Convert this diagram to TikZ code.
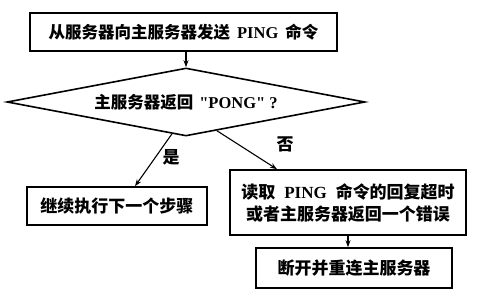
\documentclass[tikz,border=0pt]{standalone}
\usepackage{fontspec}
\setmainfont{Liberation Serif}
\newfontfamily\cjk{Noto Sans CJK SC}
\usepackage{tikz}
\usetikzlibrary{arrows.meta,positioning,shapes.geometric}
\newcommand\en[1]{{\rmfamily #1}}

\begin{document}
\begin{tikzpicture}[x=1pt,y=-1pt,font=\cjk\bfseries\fontsize{17}{22}\selectfont,
 small/.style={font=\cjk\bfseries\fontsize{16.5}{20}\selectfont},
 box/.style={draw,line width=1.6pt,align=center,inner sep=0pt},
 decision/.style={draw,diamond,line width=1.6pt,inner sep=0pt,aspect=5.26},
 arrow/.style={-{Stealth[length=7pt,width=5pt]},line width=1.1pt},
 lbl/.style={inner sep=0pt}]
\useasboundingbox (0,0) rectangle (483,299);
\node[box,small,minimum width=307pt,minimum height=38pt] (send) at (183.5,32) {从服务器向主服务器发送\hspace{7pt}\en{PING}\hspace{7pt}命令};
\node[decision,small,minimum width=358pt,minimum height=68pt] (pong) at (186,102) {主服务器返回\hspace{6pt}\en{\textquotedbl PONG\textquotedbl\ ?}};
\node[box,minimum width=180pt,minimum height=38pt] (next) at (117,206) {继续执行下一个步骤};
\node[box,minimum width=236pt,minimum height=65pt] (fail) at (348,202.5) {读取\hspace{9pt}\en{PING}\hspace{9pt}命令的回复超时\\或者主服务器返回一个错误};
\node[box,minimum width=196pt,minimum height=40pt] (reconnect) at (354,268) {断开并重连主服务器};
\node[lbl] (yes) at (171,157) {是};
\node[lbl] (no) at (285,144) {否};
\draw[arrow] (send.south -| pong.north)--(pong.north);
\draw[arrow] ([xshift=-14pt,yshift=3pt]pong.south)--([xshift=18pt]next.north);
\draw[arrow] ([xshift=31pt,yshift=6pt]pong.south)--([xshift=-71pt]fail.north);
\draw[arrow] (fail.south)--(fail.south |- reconnect.north);
\end{tikzpicture}
\end{document}
